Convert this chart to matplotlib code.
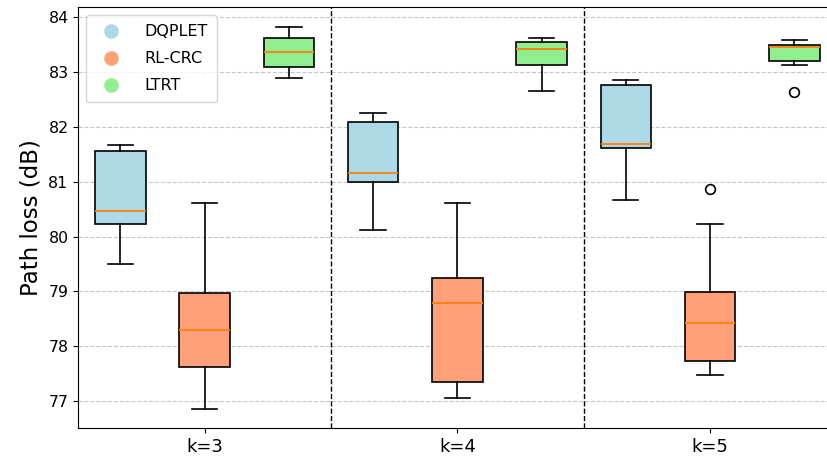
import matplotlib.pyplot as plt
from matplotlib.lines import Line2D

k_labels = ['k=3', 'k=4', 'k=5']
methods = ['DQPLET', 'RL-CRC', 'LTRT']
colors = ['lightblue', 'lightsalmon', 'lightgreen']

# path loss box statistics (dB), one value per k
dqplet_lo = [79.49, 80.12, 80.66]
dqplet_q1 = [80.23, 81.00, 81.62]
dqplet_med = [80.46, 81.15, 81.69]
dqplet_q3 = [81.56, 82.09, 82.77]
dqplet_hi = [81.67, 82.25, 82.86]
dqplet_out = [[], [], []]

rlcrc_lo = [76.85, 77.05, 77.48]
rlcrc_q1 = [77.61, 77.35, 77.72]
rlcrc_med = [78.30, 78.78, 78.42]
rlcrc_q3 = [78.96, 79.24, 78.98]
rlcrc_hi = [80.62, 80.62, 80.23]
rlcrc_out = [[], [], [80.86]]

ltrt_lo = [82.89, 82.66, 83.13]
ltrt_q1 = [83.09, 83.13, 83.21]
ltrt_med = [83.37, 83.43, 83.46]
ltrt_q3 = [83.63, 83.55, 83.49]
ltrt_hi = [83.83, 83.62, 83.59]
ltrt_out = [[], [], [82.64]]

all_stats = [
    (dqplet_lo, dqplet_q1, dqplet_med, dqplet_q3, dqplet_hi, dqplet_out),
    (rlcrc_lo, rlcrc_q1, rlcrc_med, rlcrc_q3, rlcrc_hi, rlcrc_out),
    (ltrt_lo, ltrt_q1, ltrt_med, ltrt_q3, ltrt_hi, ltrt_out),
]

fig = plt.figure(figsize=(8.27, 4.61), dpi=100)
ax = fig.add_axes([0.0947, 0.0709, 0.9166, 0.913])

lw = 1.2
for g in range(len(k_labels)):
    for m, (lo, q1, med, q3, hi, out) in enumerate(all_stats):
        st = dict(whislo=lo[g], q1=q1[g], med=med[g], q3=q3[g],
                  whishi=hi[g], fliers=out[g])
        bp = ax.bxp([st], positions=[3 * g + m + 1], widths=0.6,
                    patch_artist=True, showfliers=True,
                    boxprops=dict(linewidth=lw),
                    whiskerprops=dict(linewidth=lw),
                    capprops=dict(linewidth=lw),
                    medianprops=dict(color='C1', linewidth=1.3),
                    flierprops=dict(markersize=7, markeredgewidth=1.2))
        for box in bp['boxes']:
            box.set_facecolor(colors[m])
            box.set_edgecolor('black')

# group separators
for x in [3.5, 6.5]:
    ax.axvline(x, color='black', linestyle='--', linewidth=1)

ax.set_xlim(0.5, 9.5)
ax.set_ylim(76.5, 84.18)
ax.set_xticks([2, 5, 8])
ax.set_xticklabels(k_labels, fontsize=13)
ax.tick_params(axis='y', labelsize=11.3)
ax.set_ylabel('Path loss (dB)', fontsize=16.5)
ax.yaxis.grid(True, linestyle='--', alpha=0.7)
ax.set_axisbelow(True)

handles = [Line2D([0], [0], marker='o', color='w', markerfacecolor=c,
                  markersize=11.5) for c in colors]
ax.legend(handles, methods, loc='upper left', fontsize=11.5,
          labelspacing=0.75, handletextpad=1.1, borderpad=0.55)

fig.savefig('out.png', dpi=100)
